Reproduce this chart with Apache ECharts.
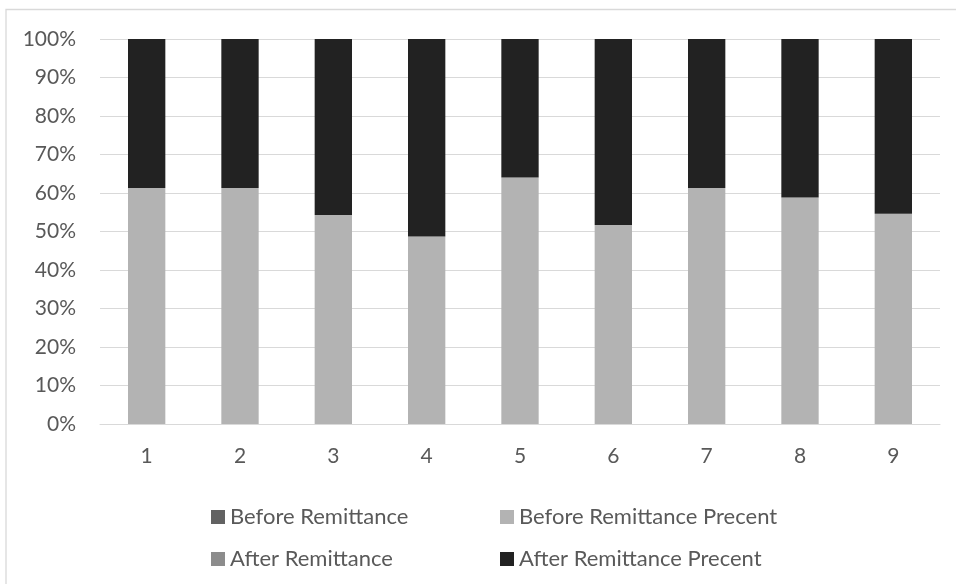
<!DOCTYPE html>
<html>
<head>
<meta charset="utf-8">
<title>Remittance share</title>
<script src="https://cdn.jsdelivr.net/npm/echarts@6/dist/echarts.min.js"></script>
<style>
  html, body { margin: 0; padding: 0; background: #ffffff; }
  #chart { width: 956px; height: 584px; }
</style>
</head>
<body>
<div id="chart"></div>
<script>
// Periods along the x axis
const categories = ['1', '2', '3', '4', '5', '6', '7', '8', '9'];

// Raw amounts (not visible on the percent scale)
const beforeRemittance = [0, 0, 0, 0, 0, 0, 0, 0, 0];
const afterRemittance = [0, 0, 0, 0, 0, 0, 0, 0, 0];

// Share of each period, in percent
const beforeRemittancePct = [61.3, 61.3, 54.3, 48.7, 64.0, 51.7, 61.3, 58.8, 54.6];
const afterRemittancePct = [38.7, 38.7, 45.7, 51.3, 36.0, 48.3, 38.7, 41.2, 45.4];

// Value axis ticks
const yTicks = { min: 0, max: 100, step: 10 };

const FONT = 'Lato, "Open Sans", "Noto Sans", sans-serif';
const TEXT = '#595959';
const GRID = '#d9d9d9';

const chart = echarts.init(document.getElementById('chart'), null, { renderer: 'canvas' });

function barSeries(name, data, color) {
  return {
    name: name,
    type: 'bar',
    stack: 'share',
    data: data,
    barWidth: '40%',
    itemStyle: { color: color },
    emphasis: { disabled: true }
  };
}

const legendBase = {
  orient: 'vertical',
  icon: 'rect',
  itemWidth: 14,
  itemHeight: 14,
  itemGap: 16,
  selectedMode: false,
  textStyle: { color: TEXT, fontFamily: FONT, fontSize: 22, lineHeight: 26 }
};

chart.setOption({
  animation: false,
  backgroundColor: '#ffffff',
  graphic: [{
    type: 'rect',
    silent: true,
    shape: { x: 6, y: 9.5, width: 1000, height: 1000 },
    style: { fill: 'none', stroke: GRID, lineWidth: 1.3 }
  }],
  grid: { left: 100, top: 39, width: 840, height: 385 },
  legend: [
    Object.assign({}, legendBase, { left: 206, top: 499, data: ['Before Remittance', 'After Remittance'] }),
    Object.assign({}, legendBase, { left: 495, top: 499, data: ['Before Remittance Precent', 'After Remittance Precent'] })
  ],
  xAxis: {
    type: 'category',
    data: categories,
    axisLine: { show: true, lineStyle: { color: GRID, width: 1 } },
    axisTick: { show: false },
    axisLabel: { color: TEXT, fontFamily: FONT, fontSize: 21, margin: 22 }
  },
  yAxis: {
    type: 'value',
    min: yTicks.min,
    max: yTicks.max,
    interval: yTicks.step,
    axisLine: { show: false },
    axisTick: { show: false },
    splitLine: { lineStyle: { color: GRID, width: 1 } },
    axisLabel: { color: TEXT, fontFamily: FONT, fontSize: 21, margin: 24, formatter: '{value}%' }
  },
  series: [
    barSeries('Before Remittance', beforeRemittance, '#626262'),
    barSeries('Before Remittance Precent', beforeRemittancePct, '#b3b3b3'),
    barSeries('After Remittance', afterRemittance, '#8c8c8c'),
    barSeries('After Remittance Precent', afterRemittancePct, '#222222')
  ]
});
</script>
</body>
</html>
